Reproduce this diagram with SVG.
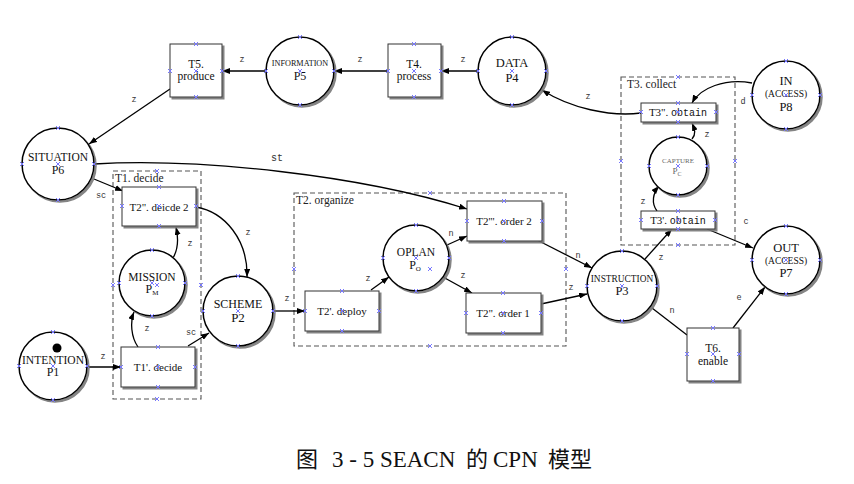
<svg xmlns="http://www.w3.org/2000/svg" xmlns:xlink="http://www.w3.org/1999/xlink" width="854" height="484" viewBox="0 0 854 484">
<style>
.pl{fill:#fff;stroke:#000;stroke-width:1.5;filter:url(#sh)}
.tr{fill:#fff;stroke:#333;stroke-width:1;filter:url(#sh)}
.grp{fill:none;stroke:#555;stroke-width:1.1;stroke-dasharray:5,3}
.c{fill:none;stroke:#000;stroke-width:1.3}
.ca{fill:none;stroke:#000;stroke-width:1.3;marker-end:url(#a)}
.t{font-family:"Liberation Serif",serif;fill:#111;text-anchor:middle}
.gt{font-family:"Liberation Serif",serif;fill:#222;font-size:11.5px}
.el{font-family:"Liberation Mono",monospace;fill:#333;font-size:8.5px;text-anchor:middle}
.m{font-family:"Liberation Mono",monospace}
.x{stroke:#7878ff;stroke-width:1;fill:none}
</style>
<defs>
<filter id="sh" x="-20%" y="-20%" width="150%" height="150%"><feDropShadow dx="2" dy="2" stdDeviation="0.7" flood-color="#777" flood-opacity="0.9"/></filter>
<marker id="a" viewBox="0 0 10 10" refX="10" refY="5" markerWidth="8" markerHeight="6" markerUnits="userSpaceOnUse" orient="auto" preserveAspectRatio="none"><path d="M0,0 L10,5 L0,10 z" fill="#000"/></marker>
<path id="x" class="x" d="M-2,-2 L2,2 M-2,2 L2,-2"/>
</defs>
<rect width="854" height="484" fill="#fff"/>

<g id="groups">
<rect class="grp" x="113" y="171" width="88" height="228"/>
<text class="gt" x="115" y="182">T1. decide</text>
<rect class="grp" x="294" y="193" width="272" height="153"/>
<text class="gt" x="296" y="204">T2. organize</text>
<rect class="grp" x="621" y="77" width="114" height="168"/>
<text class="gt" x="627" y="88">T3. collect</text>
</g>

<g id="connectors">
<line class="ca" x1="267" y1="71" x2="222" y2="71"/>
<line class="ca" x1="388" y1="71" x2="334" y2="71"/>
<line class="ca" x1="477" y1="71" x2="441" y2="71"/>
<line class="ca" x1="170" y1="89" x2="89" y2="144"/>
<path class="ca" d="M641,113 C610,117 570,108 542,90"/>
<path class="ca" d="M752,83 C725,78 700,88 692,103"/>
<path class="ca" d="M692,139 C697,133 694,128 692,123"/>
<path class="ca" d="M657,211 C651,203 653,193 659,186"/>
<line class="ca" x1="707" y1="229" x2="753" y2="248"/>
<line class="ca" x1="645" y1="259" x2="672" y2="229"/>
<line class="c" x1="652" y1="308" x2="687" y2="335"/>
<line class="ca" x1="733" y1="328" x2="765" y2="287"/>
<line class="ca" x1="537" y1="240" x2="592" y2="268"/>
<line class="ca" x1="541" y1="304" x2="587" y2="294"/>
<line class="ca" x1="447" y1="245" x2="467" y2="236"/>
<line class="ca" x1="443" y1="277" x2="472" y2="293"/>
<line class="ca" x1="371" y1="290" x2="389" y2="277"/>
<line class="ca" x1="273" y1="311" x2="305" y2="311"/>
<path class="ca" d="M94,164 C200,158 360,175 467,209"/>
<line class="ca" x1="94" y1="179" x2="123" y2="191"/>
<path class="ca" d="M196,207 C225,212 248,240 247,277"/>
<path class="ca" d="M173,258 C179,248 178,236 176,227"/>
<path class="ca" d="M138,347 C131,337 130,322 134,312"/>
<line class="ca" x1="188" y1="346" x2="209" y2="333"/>
<line class="ca" x1="87" y1="367" x2="121" y2="367"/>
<g id="edge-labels">
<text class="el" x="242" y="62">z</text>
<text class="el" x="360" y="62">z</text>
<text class="el" x="463" y="62">z</text>
<text class="el" x="134" y="102">z</text>
<text class="el" x="588" y="99">z</text>
<text class="el" x="743" y="104">d</text>
<text class="el" x="707" y="137">z</text>
<text class="el" x="643" y="204">z</text>
<text class="el" x="746" y="224">c</text>
<text class="el" x="661" y="260">z</text>
<text class="el" x="672" y="313">n</text>
<text class="el" x="739" y="300">e</text>
<text class="el" x="578" y="258">n</text>
<text class="el" x="571" y="290">z</text>
<text class="el" x="451" y="236">n</text>
<text class="el" x="463" y="278">z</text>
<text class="el" x="368" y="281">z</text>
<text class="el" x="287" y="301">z</text>
<text class="el" x="277" y="161" style="font-size:10px">st</text>
<text class="el" x="101" y="198">sc</text>
<text class="el" x="248" y="235">z</text>
<text class="el" x="190" y="246">z</text>
<text class="el" x="147" y="331">z</text>
<text class="el" x="191" y="335">sc</text>
<text class="el" x="103" y="359">z</text>
</g>
</g>

<g id="P6"><circle class="pl" cx="58" cy="164" r="36"/><text class="t" x="58" y="161" font-size="11.5">SITUATION</text><text class="t" x="58" y="174" font-size="12">P6</text></g>
<g id="P5"><circle class="pl" cx="300" cy="71" r="34"/><text class="t" x="300" y="66" font-size="8.2">INFORMATION</text><text class="t" x="300" y="80" font-size="12">P5</text></g>
<g id="P4"><circle class="pl" cx="512" cy="71" r="34"/><text class="t" x="512" y="67" font-size="12.5">DATA</text><text class="t" x="512" y="82" font-size="12.5">P4</text></g>
<g id="P8"><circle class="pl" cx="786" cy="95" r="34"/><text class="t" x="786" y="85" font-size="12.5">IN</text><text class="t" x="786" y="97" font-size="9.5">(ACCESS)</text><text class="t" x="786" y="111" font-size="12.5">P8</text></g>
<g id="PC"><circle class="pl" cx="678" cy="166" r="29"/><text class="t" x="678" y="163" font-size="7" style="fill:#666">CAPTURE</text><text class="t" x="677" y="174" font-size="9" style="fill:#666">P<tspan font-size="6" dy="2">C</tspan></text></g>
<g id="P7"><circle class="pl" cx="786" cy="260" r="34"/><text class="t" x="786" y="252" font-size="12.5">OUT</text><text class="t" x="786" y="264" font-size="9.5">(ACCESS)</text><text class="t" x="786" y="277" font-size="12.5">P7</text></g>
<g id="PM"><circle class="pl" cx="152" cy="283" r="33"/><text class="t" x="152" y="281" font-size="11.5">MISSION</text><text class="t" x="152" y="293" font-size="12">P<tspan font-size="7" dy="2">M</tspan></text></g>
<g id="P2"><circle class="pl" cx="238" cy="311" r="35"/><text class="t" x="238" y="308" font-size="12">SCHEME</text><text class="t" x="238" y="322" font-size="13">P2</text></g>
<g id="P1"><circle class="pl" cx="53" cy="366" r="34"/><circle cx="57" cy="348" r="4.5" fill="#000"/><text class="t" x="53" y="364" font-size="11.5">INTENTION</text><text class="t" x="53" y="376" font-size="12">P1</text></g>
<g id="PO"><circle class="pl" cx="416" cy="258" r="33"/><text class="t" x="416" y="256" font-size="11.5">OPLAN</text><text class="t" x="415" y="269" font-size="12">P<tspan font-size="7" dy="2">O</tspan></text></g>
<g id="P3"><circle class="pl" cx="622" cy="286" r="35"/><text class="t" x="622" y="282" font-size="9.4">INSTRUCTION</text><text class="t" x="622" y="295" font-size="12.5">P3</text></g>

<g id="T5"><rect class="tr" x="170" y="44" width="52" height="53"/><text class="t" x="196" y="68" font-size="11.5">T5.</text><text class="t" x="196" y="80" font-size="11.5">produce</text></g>
<g id="T4"><rect class="tr" x="388" y="44" width="53" height="53"/><text class="t" x="414" y="68" font-size="11.5">T4.</text><text class="t" x="414" y="80" font-size="11.5">process</text></g>
<g id="T3b"><rect class="tr" x="641" y="103" width="75" height="19"/><text class="t" x="678" y="116" font-size="11">T3". <tspan class="m" font-size="10">obtain</tspan></text></g>
<g id="T3a"><rect class="tr" x="641" y="211" width="74" height="18"/><text class="t" x="678" y="224" font-size="11">T3'. <tspan class="m" font-size="10">obtain</tspan></text></g>
<g id="T2b"><rect class="tr" x="122" y="187" width="74" height="39"/><text class="t" x="159" y="211" font-size="11">T2". deicde 2</text></g>
<g id="T1a"><rect class="tr" x="121" y="347" width="74" height="40"/><text class="t" x="158" y="371" font-size="11">T1'. decide</text></g>
<g id="T2a"><rect class="tr" x="305" y="291" width="74" height="40"/><text class="t" x="342" y="315" font-size="11">T2'. deploy</text></g>
<g id="T2c"><rect class="tr" x="467" y="201" width="75" height="40"/><text class="t" x="504" y="225" font-size="11">T2'". order 2</text></g>
<g id="T2d"><rect class="tr" x="466" y="293" width="75" height="40"/><text class="t" x="503" y="317" font-size="11">T2". order 1</text></g>
<g id="T6"><rect class="tr" x="687" y="328" width="52" height="53"/><text class="t" x="713" y="352" font-size="11.5">T6.</text><text class="t" x="713" y="365" font-size="11.5">enable</text></g>

<g id="anchors">
<use href="#x" x="58" y="128"/><use href="#x" x="58" y="200"/><use href="#x" x="22" y="164"/><use href="#x" x="94" y="164"/><use href="#x" x="58" y="164"/>
<use href="#x" x="300" y="37"/><use href="#x" x="300" y="105"/><use href="#x" x="266" y="71"/><use href="#x" x="334" y="71"/><use href="#x" x="300" y="71"/>
<use href="#x" x="512" y="37"/><use href="#x" x="512" y="105"/><use href="#x" x="478" y="71"/><use href="#x" x="546" y="71"/><use href="#x" x="512" y="71"/>
<use href="#x" x="786" y="61"/><use href="#x" x="786" y="129"/><use href="#x" x="752" y="95"/><use href="#x" x="820" y="95"/><use href="#x" x="786" y="95"/>
<use href="#x" x="678" y="137"/><use href="#x" x="678" y="195"/><use href="#x" x="649" y="166"/><use href="#x" x="707" y="166"/><use href="#x" x="678" y="166"/>
<use href="#x" x="786" y="226"/><use href="#x" x="786" y="294"/><use href="#x" x="752" y="260"/><use href="#x" x="820" y="260"/><use href="#x" x="786" y="260"/>
<use href="#x" x="152" y="250"/><use href="#x" x="152" y="316"/><use href="#x" x="119" y="283"/><use href="#x" x="185" y="283"/><use href="#x" x="152" y="283"/><use href="#x" x="157" y="285"/>
<use href="#x" x="238" y="276"/><use href="#x" x="238" y="346"/><use href="#x" x="203" y="311"/><use href="#x" x="273" y="311"/><use href="#x" x="238" y="311"/>
<use href="#x" x="53" y="332"/><use href="#x" x="53" y="400"/><use href="#x" x="19" y="366"/><use href="#x" x="87" y="366"/><use href="#x" x="53" y="366"/>
<use href="#x" x="416" y="225"/><use href="#x" x="416" y="291"/><use href="#x" x="383" y="258"/><use href="#x" x="449" y="258"/><use href="#x" x="416" y="258"/><use href="#x" x="430" y="269"/>
<use href="#x" x="622" y="251"/><use href="#x" x="622" y="321"/><use href="#x" x="587" y="286"/><use href="#x" x="657" y="286"/><use href="#x" x="622" y="286"/>
<use href="#x" x="196" y="44"/><use href="#x" x="196" y="97"/><use href="#x" x="170" y="71"/><use href="#x" x="222" y="71"/><use href="#x" x="196" y="71"/>
<use href="#x" x="414" y="44"/><use href="#x" x="414" y="97"/><use href="#x" x="388" y="71"/><use href="#x" x="441" y="71"/><use href="#x" x="414" y="71"/>
<use href="#x" x="678" y="103"/><use href="#x" x="678" y="122"/><use href="#x" x="641" y="112"/><use href="#x" x="716" y="112"/><use href="#x" x="678" y="112"/>
<use href="#x" x="678" y="211"/><use href="#x" x="678" y="229"/><use href="#x" x="641" y="220"/><use href="#x" x="715" y="220"/><use href="#x" x="678" y="220"/>
<use href="#x" x="159" y="187"/><use href="#x" x="159" y="226"/><use href="#x" x="122" y="206"/><use href="#x" x="196" y="206"/><use href="#x" x="159" y="206"/>
<use href="#x" x="158" y="347"/><use href="#x" x="158" y="387"/><use href="#x" x="121" y="367"/><use href="#x" x="195" y="367"/><use href="#x" x="158" y="367"/>
<use href="#x" x="342" y="291"/><use href="#x" x="342" y="331"/><use href="#x" x="305" y="311"/><use href="#x" x="379" y="311"/><use href="#x" x="342" y="311"/>
<use href="#x" x="504" y="201"/><use href="#x" x="504" y="241"/><use href="#x" x="467" y="221"/><use href="#x" x="542" y="221"/><use href="#x" x="504" y="221"/>
<use href="#x" x="503" y="293"/><use href="#x" x="503" y="333"/><use href="#x" x="466" y="313"/><use href="#x" x="541" y="313"/><use href="#x" x="503" y="313"/>
<use href="#x" x="713" y="328"/><use href="#x" x="713" y="381"/><use href="#x" x="687" y="354"/><use href="#x" x="739" y="354"/><use href="#x" x="713" y="354"/>
<use href="#x" x="157" y="171"/><use href="#x" x="157" y="399"/><use href="#x" x="113" y="285"/><use href="#x" x="201" y="285"/>
<use href="#x" x="430" y="193"/><use href="#x" x="430" y="346"/><use href="#x" x="294" y="269"/><use href="#x" x="566" y="269"/>
<use href="#x" x="678" y="77"/><use href="#x" x="678" y="245"/><use href="#x" x="621" y="161"/><use href="#x" x="735" y="161"/>
</g>

<text id="caption" font-family="'Liberation Serif','Noto Sans CJK SC',serif" font-size="23" fill="#111" y="467"><tspan x="296" font-size="22">图</tspan><tspan x="332">3 - 5 SEACN</tspan><tspan x="466" font-size="22">的</tspan><tspan x="493">CPN</tspan><tspan x="548" font-size="22">模型</tspan></text>
</svg>
